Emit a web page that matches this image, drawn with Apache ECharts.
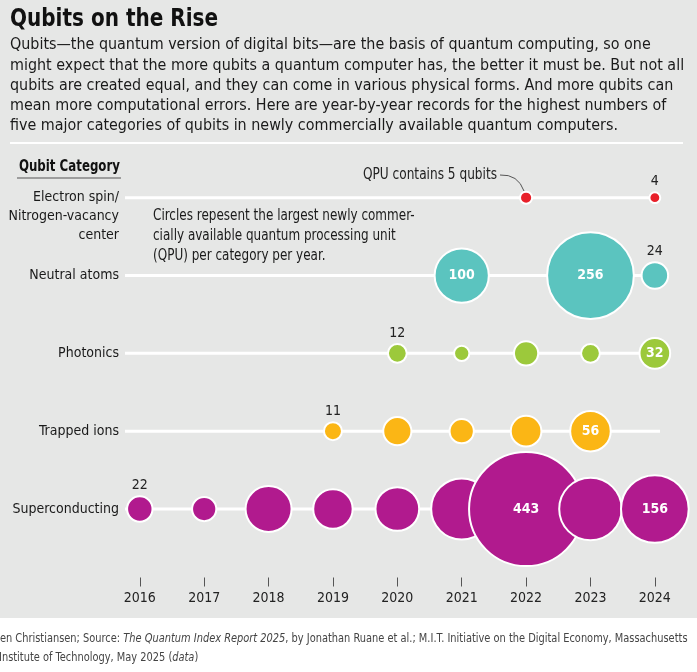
<!DOCTYPE html>
<html>
<head>
<meta charset="utf-8">
<title>Qubits on the Rise</title>
<script src="https://cdn.jsdelivr.net/npm/echarts@6/dist/echarts.min.js"></script>
<style>
  html, body { margin: 0; padding: 0; background: #ffffff; }
  #main { width: 697px; height: 672px; }
</style>
</head>
<body>
<div id="main"></div>
<script>
/* 数据 */
var years = [2016, 2017, 2018, 2019, 2020, 2021, 2022, 2023, 2024];
var categories = ['Electron spin/\nNitrogen-vacancy\ncenter', 'Neutral atoms', 'Photonics', 'Trapped ions', 'Superconducting'];
var electronSpin    = [null, null, null, null, null, null, 5, null, 4];
var neutralAtoms    = [null, null, null, null, null, 100, null, 256, 24];
var photonics       = [null, null, null, null, 12, 8, 20, 12, 32];
var trappedIons     = [null, null, null, 11, 27, 20, 32, 56, null];
var superconducting = [22, 20, 72, 53, 65, 127, 443, 133, 156];
// which years get a number printed
var labeledYears = [[2024], [2021, 2023, 2024], [2020, 2024], [2019, 2023], [2016, 2022, 2024]];
var colors = ['#e8202a', '#5bc4bf', '#9cc93b', '#fbb615', '#b11a8e'];

var FONT = '"DejaVu Sans Condensed", "Roboto", sans-serif';
var xMin = 2015.77, xMax = 2024.08;
var seriesValues = [electronSpin, neutralAtoms, photonics, trappedIons, superconducting];

function bubbleSize(v) {
	// area proportional to qubit count
	return 5.42 * Math.sqrt(v);
}

var series = [];
// white guide lines
for (var c = 0; c < categories.length; c++) {
	series.push({
		type: 'line',
		data: [[xMin, c], [xMax, c]],
		symbol: 'none',
		silent: true,
		lineStyle: { color: '#ffffff', width: 3 },
		z: 1
	});
}
for (var k = 0; k < seriesValues.length; k++) {
	var vals = seriesValues[k];
	var pts = [];
	for (var i = 0; i < years.length; i++) {
		if (vals[i] == null) continue;
		var item = { value: [years[i], k, vals[i]] };
		if (labeledYears[k].indexOf(years[i]) >= 0) {
			var inside = vals[i] >= 30;
			item.label = inside ? {
				show: true, position: 'inside', color: '#ffffff', fontWeight: 'bold', fontSize: 14, fontFamily: FONT
			} : {
				show: true, position: 'top', distance: 3, color: '#222222', fontSize: 14, fontFamily: FONT
			};
		}
		pts.push(item);
	}
	series.push({
		type: 'scatter',
		data: pts,
		symbolSize: function (d) { return bubbleSize(d[2]); },
		itemStyle: { color: colors[k], borderColor: '#ffffff', borderWidth: 2, opacity: 1 },
		label: { show: false, formatter: function (p) { return p.value[2]; } },
		emphasis: { disabled: true },
		z: 2
	});
}

var subtitle = [
	'Qubits\u2014the quantum version of digital bits\u2014are the basis of quantum computing, so one',
	'might expect that the more qubits a quantum computer has, the better it must be. But not all',
	'qubits are created equal, and they can come in various physical forms. And more qubits can',
	'mean more computational errors. Here are year-by-year records for the highest numbers of',
	'five major categories of qubits in newly commercially available quantum computers.'
];
var note = [
	'Circles repesent the largest newly commer-',
	'cially available quantum processing unit',
	'(QPU) per category per year.'
];

var footRich = {
	n: { font: '12.5px ' + FONT, fill: '#444444' },
	i: { font: 'italic 12.5px ' + FONT, fill: '#444444' }
};

var graphics = [
	{ type: 'rect', shape: { x: 0, y: 0, width: 697, height: 618 }, style: { fill: '#e6e7e6' }, z: -10, silent: true },
	{ type: 'text', x: 10, y: 19, scaleX: 0.89, style: { text: 'Qubits on the Rise', font: 'bold 25px ' + FONT, fill: '#111111', verticalAlign: 'middle' } },
	{ type: 'rect', shape: { x: 10, y: 142, width: 673, height: 2 }, style: { fill: '#ffffff' } },
	{ type: 'text', x: 120, y: 167, scaleX: 0.875, style: { text: 'Qubit Category', font: 'bold 15px ' + FONT, fill: '#111111', align: 'right', verticalAlign: 'middle' } },
	{ type: 'rect', shape: { x: 17, y: 177.5, width: 104, height: 1 }, style: { fill: '#555555' } },
	{ type: 'text', x: 497, y: 175, scaleX: 0.9, style: { text: 'QPU contains 5 qubits', font: '15px ' + FONT, fill: '#222222', align: 'right', verticalAlign: 'middle' } },
	{ type: 'bezierCurve', shape: { x1: 500, y1: 175, x2: 524, y2: 191, cpx1: 518, cpy1: 174 }, style: { stroke: '#555555', lineWidth: 1, fill: null } },
	{ type: 'text', x: -3, y: 639, scaleX: 0.875, style: { rich: footRich, verticalAlign: 'middle',
		text: '{n|Jen Christiansen; Source: }{i|The Quantum Index Report 2025}{n|, by Jonathan Ruane et al.; M.I.T. Initiative on the Digital Economy, Massachusetts}' } },
	{ type: 'text', x: -1, y: 658, scaleX: 0.875, style: { rich: footRich, verticalAlign: 'middle',
		text: '{n|Institute of Technology, May 2025 (}{i|data}{n|)}' } }
];
for (var s = 0; s < subtitle.length; s++) {
	graphics.push({ type: 'text', x: 10, y: 45 + s * 20.3, scaleX: 0.965, style: { text: subtitle[s], font: '16.5px ' + FONT, fill: '#1a1a1a', verticalAlign: 'middle' } });
}
for (var n = 0; n < note.length; n++) {
	graphics.push({ type: 'text', x: 153, y: 216 + n * 20, scaleX: 0.89, style: { text: note[n], font: '15px ' + FONT, fill: '#1a1a1a', verticalAlign: 'middle' } });
}

var chart = echarts.init(document.getElementById('main'));
var option = {
	animation: false,
	grid: { left: 125, right: 37, top: 151, height: 426.5, containLabel: false },
	xAxis: {
		type: 'value',
		min: xMin,
		max: xMax,
		splitLine: { show: false },
		axisLine: { show: false, onZero: false },
		axisTick: { show: true, customValues: years, length: 9, lineStyle: { color: '#555555', width: 1 } },
		axisLabel: {
			customValues: years,
			margin: 14,
			fontSize: 14,
			color: '#222222',
			fontFamily: FONT,
			formatter: function (v) { return String(v); }
		}
	},
	yAxis: {
		type: 'value',
		inverse: true,
		min: -0.6,
		max: 4.88,
		splitLine: { show: false },
		axisLine: { show: false, onZero: false },
		axisTick: { show: false },
		axisLabel: {
			customValues: [0, 1, 2, 3, 4],
			margin: 6,
			fontSize: 14,
			lineHeight: 19,
			color: '#1a1a1a',
			fontFamily: FONT,
			align: 'right',
			formatter: function (v) {
				var name = categories[Math.round(v)];
				return name.indexOf('\n') >= 0 ? '\n\n' + name : name;
			}
		}
	},
	graphic: graphics,
	series: series
};
chart.setOption(option);
</script>
</body>
</html>
